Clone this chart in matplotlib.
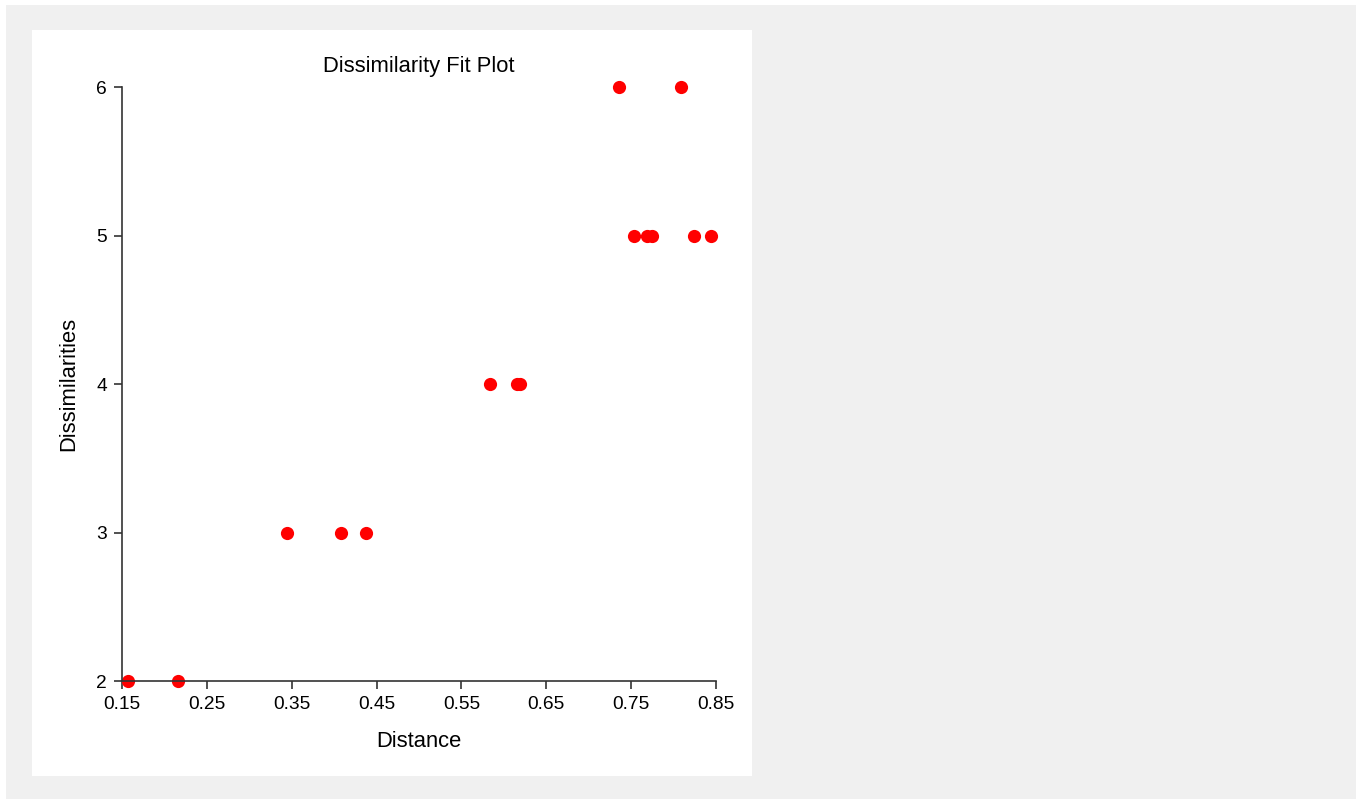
import matplotlib
matplotlib.use("Agg")
import matplotlib.pyplot as plt
from matplotlib.patches import Rectangle

plt.rcParams['font.family'] = ['Liberation Sans', 'DejaVu Sans']

# distance vs dissimilarity rank
distance = [0.157, 0.216,
            0.344, 0.408, 0.438,
            0.584, 0.615, 0.619,
            0.753, 0.769, 0.774, 0.824, 0.844,
            0.736, 0.809]
dissim = [2, 2,
          3, 3, 3,
          4, 4, 4,
          5, 5, 5, 5, 5,
          6, 6]
xticks = [0.15, 0.25, 0.35, 0.45, 0.55, 0.65, 0.75, 0.85]
yticks = [2, 3, 4, 5, 6]

W, H = 1356, 799
fig = plt.figure(figsize=(W / 100, H / 100), dpi=100)
fig.patch.set_facecolor('white')

# gray backdrop and white panel
fig.patches.append(Rectangle((6 / W, 0), 1, 1 - 5 / H, transform=fig.transFigure,
                             facecolor='#f0f0f0', edgecolor='none', zorder=-2))
fig.patches.append(Rectangle((32 / W, 1 - 776 / H), 720 / W, 746 / H,
                             transform=fig.transFigure,
                             facecolor='white', edgecolor='none', zorder=-1))

ax = fig.add_axes([122 / W, 1 - 681 / H, 594 / W, 594 / H])
ax.patch.set_alpha(0)
ax.plot(distance, dissim, 'o', color='#ff0000', markersize=9.5,
        markeredgewidth=0, clip_on=False)

ax.set_xlim(0.15, 0.85)
ax.set_ylim(2, 6)
ax.set_xticks(xticks)
ax.set_xticklabels(['%.2f' % v for v in xticks])
ax.set_yticks(yticks)
for s in ['top', 'right']:
    ax.spines[s].set_visible(False)
for s in ['left', 'bottom']:
    ax.spines[s].set_color('#333333')
    ax.spines[s].set_linewidth(1.2)
ax.tick_params(direction='out', length=6, width=1.2, color='#333333',
               labelsize=13.8, pad=5)

ax.set_title('Dissimilarity Fit Plot', fontsize=15.8, pad=11)
ax.set_xlabel('Distance', fontsize=15.8, labelpad=13)
ax.set_ylabel('Dissimilarities', fontsize=15.8, labelpad=12)

fig.savefig('out.png', dpi=100)
